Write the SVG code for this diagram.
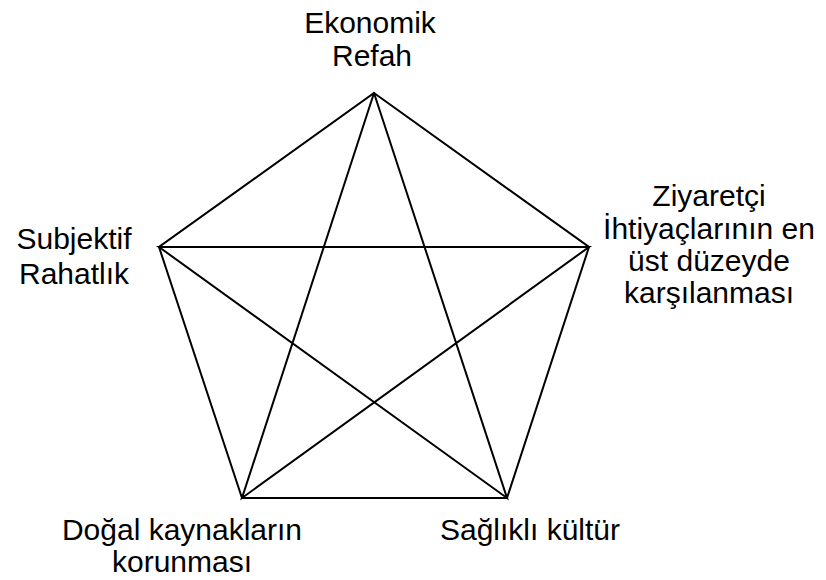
<svg xmlns="http://www.w3.org/2000/svg" width="826" height="580" viewBox="0 0 826 580">
<style>
.l{stroke:#000;stroke-width:2;fill:none;stroke-linecap:round}
text{font-family:"Liberation Sans",Arial,sans-serif;font-size:30px;fill:#000;text-anchor:middle}
</style>
<rect width="826" height="580" fill="#fff"/>
<g id="connectors">
<polygon class="l" points="374,93 589,247 507,498 242,498 159,247"/>
<polyline class="l" points="374,93 242,498 589,247 159,247 507,498 374,93"/>
</g>
<g id="n-ekonomik"><text x="370" y="33">Ekonomik</text><text x="372" y="66">Refah</text></g>
<g id="n-subjektif"><text x="74" y="249">Subjektif</text><text x="74" y="284">Rahatlık</text></g>
<g id="n-ziyaretci"><text x="709" y="206">Ziyaretçi</text><text x="709" y="239">İhtiyaçlarının en</text><text x="709" y="271">üst düzeyde</text><text x="709" y="303">karşılanması</text></g>
<g id="n-dogal"><text x="182" y="540">Doğal kaynakların</text><text x="182" y="572">korunması</text></g>
<g id="n-saglikli"><text x="530" y="540">Sağlıklı kültür</text></g>
</svg>
